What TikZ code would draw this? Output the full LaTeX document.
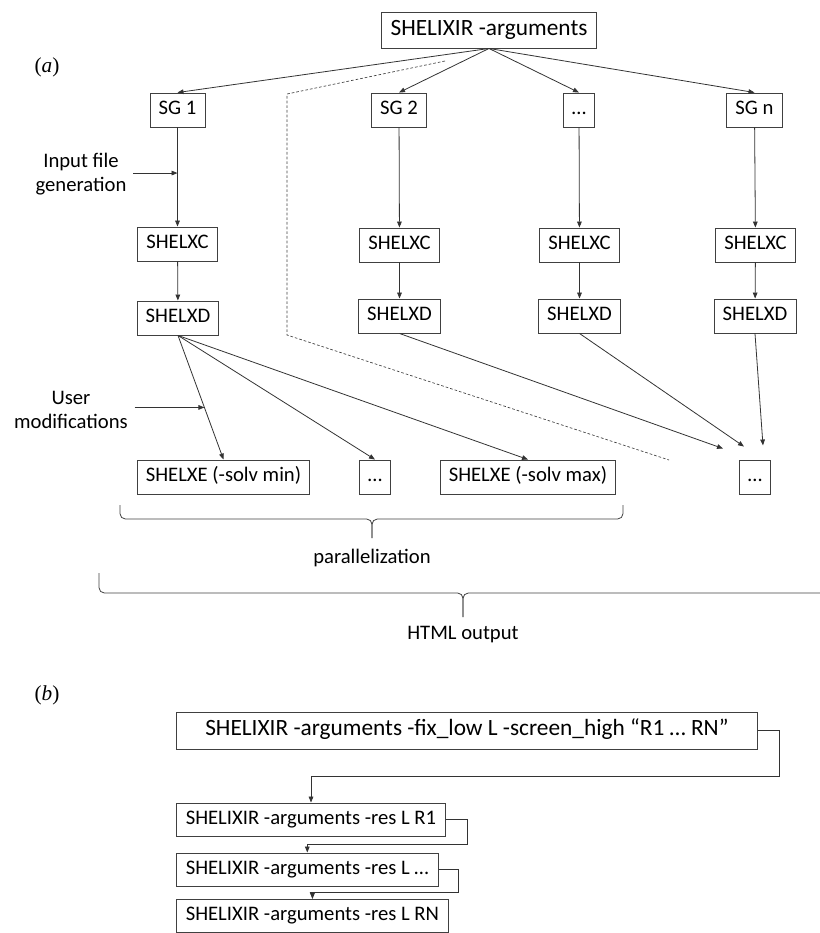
\documentclass[tikz,border=0pt]{standalone}
\usepackage{fontspec}
\setmainfont{Carlito}
\newfontfamily\figlab{Liberation Serif}
\usetikzlibrary{arrows.meta,calc}

\begin{document}
\begin{tikzpicture}[>={Triangle[length=4.5pt,width=3.5pt]},x=0.75pt,y=-0.75pt,
 font=\fontsize{15.5}{18.5}\selectfont,
 box/.style={draw=black!75,line width=0.7pt,inner xsep=6.5pt,inner ysep=2pt,minimum height=25.5pt,
   text height=10.5pt,text depth=3.5pt,fill=white},
 wide/.style={box,font=\fontsize{17.5}{21}\selectfont,minimum height=27pt,inner xsep=7pt,
   text height=12pt,text depth=4pt},
 cmd/.style={box,anchor=west,minimum height=24.75pt,inner xsep=7pt},
 lab/.style={align=center,inner sep=5pt},
 part/.style={font={\figlab\fontsize{16}{19}\selectfont},inner sep=1pt},
 conn/.style={draw=black!80,line width=0.6pt},
 brc/.style={draw=black!75,line width=0.6pt,rounded corners=4pt}]
\useasboundingbox (0,0) rectangle (820,933);
% (a)
\node[part] (pa) at (47,67) {(\textit{a})};
\node[wide] (top) at (489,30) {SHELIXIR -arguments};
\node[box] (sg1) at (177.5,110) {SG 1};
\node[box] (sg2) at (399,110) {SG 2};
\node[box] (sgd) at (579,110) {…};
\node[box] (sgn) at (754.5,110) {SG n};
\node[box] (c1) at (177.5,244) {SHELXC};
\node[box] (c2) at (399.5,245) {SHELXC};
\node[box] (c3) at (579.5,245) {SHELXC};
\node[box] (c4) at (755.5,245) {SHELXC};
\node[box] (d1) at (178,318) {SHELXD};
\node[box] (d2) at (399.5,316) {SHELXD};
\node[box] (d3) at (579.5,316) {SHELXD};
\node[box] (d4) at (755,316) {SHELXD};
\node[box] (e1) at (223.5,477) {SHELXE (-solv min)};
\node[box] (ed) at (375,477) {…};
\node[box] (e2) at (528,477) {SHELXE (-solv max)};
\node[box] (rd) at (755,477) {…};
\node[lab] (inlab) at (81,174) {Input file\\generation};
\node[lab] (umlab) at (71,410) {User\\modifications};
\node (par) at (372,558) {parallelization};
\node (html) at (463,635) {HTML output};
\foreach \s in {sg1,sg2,sgd,sgn}
  \draw[conn,->] (top.south) -- (\s.north);
\foreach \i in {1,2,3,4}
  \draw[conn,->] (c\i) -- (d\i);
\draw[conn,->] (sg1) -- (c1);
\draw[conn,->] (sg2) -- (c2);
\draw[conn,->] (sgd) -- (c3);
\draw[conn,->] (sgn) -- (c4);
\foreach \e in {e1,ed,e2}
  \draw[conn,->] (d1.south) -- (\e.north);
\coordinate (inp) at ($(sg1.south)!0.46!(c1.north)$);
\coordinate (um) at ($(d1.south)!0.58!(e1.north)$);
\draw[conn,->] (inp -| inlab.east) -- (inp);
\draw[conn,->] (um -| umlab.east) -- (um);
\coordinate (rd2) at ($(rd.north)+(-32,-11)$);
\coordinate (rd3) at ($(rd.north)+(-11,-13)$);
\coordinate (rd4) at ($(rd.north)+(8,-14)$);
\draw[conn,->] (d2.south) -- (rd2);
\draw[conn,->] (d3.south) -- (rd3);
\draw[conn,->] (d4.south) -- (rd4);
% dashed separator
\coordinate (dA) at (445,61);
\coordinate (dB) at (287,94);
\coordinate (dC) at (287,335);
\coordinate (dD) at (669,460);
\draw[black!75,line width=0.5pt,dash pattern=on 2pt off 1.5pt] (dA) -- (dB) -- (dC) -- (dD);
% braces
\draw[brc] (120,505) -- (120,519) -- (372,519) -- (372,538);
\draw[brc] (623,505) -- (623,519) -- (372,519) -- (372,538);
\draw[brc] (99,573) -- (99,593) -- (463,593) -- (463,617);
\draw[brc] (820,593) -- (463,593) -- (463,617);
% (b)
\node[part] (pb) at (47,695) {(\textit{b})};
\node[wide,anchor=west,minimum width=435.75pt,minimum height=27.75pt] (big) at (176,730.5) {SHELIXIR -arguments -fix\_low L -screen\_high “R1 … RN”};
\node[cmd] (r1) at (176,819.5) {SHELIXIR -arguments -res L R1};
\node[cmd] (rm) at (176,869.5) {SHELIXIR -arguments -res L …};
\node[cmd] (rn) at (176,916) {SHELIXIR -arguments -res L RN};
\draw[conn,->] (big.east) -- ++(21,0) |- ($(big.south)!0.5!(r1.north)$) -| (r1.north);
\draw[conn,->] (r1.east) -- ++(21,0) |- ($(r1.south)!0.5!(rm.north)$) -| (rm.north);
\draw[conn,->] (rm.east) -- ++(20,0) |- ($(rm.south)!0.5!(rn.north)$) -| (rn.north);
\end{tikzpicture}
\end{document}
